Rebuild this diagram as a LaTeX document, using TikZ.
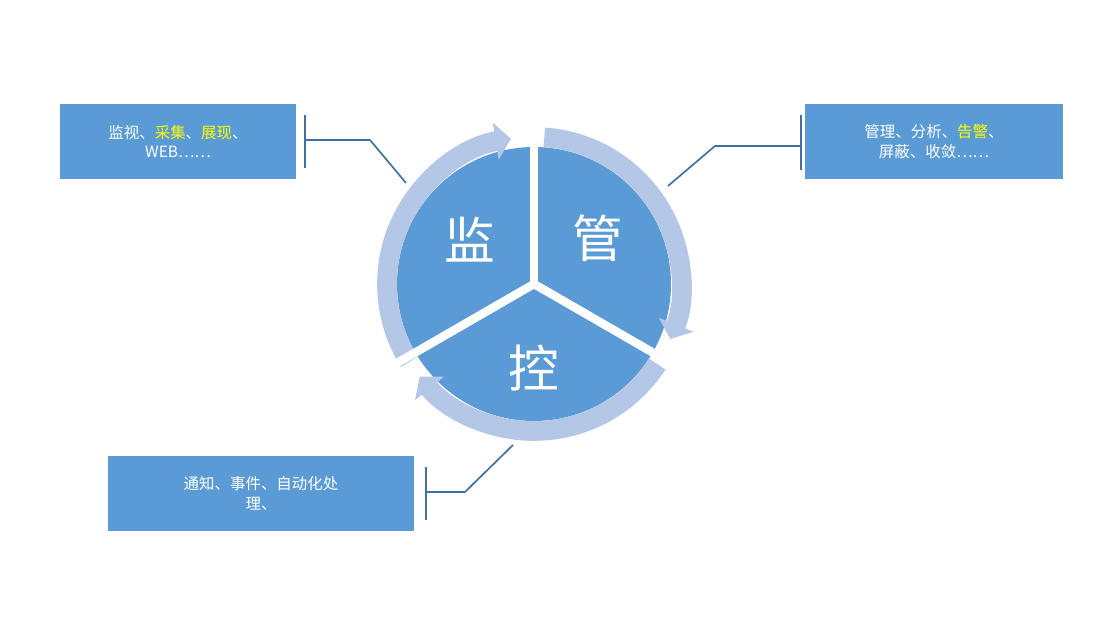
\documentclass[tikz,border=0pt]{standalone}
\usepackage{fontspec}
\setmainfont{Noto Sans CJK SC}
\usetikzlibrary{positioning, arrows.meta, calc}
\definecolor{pieblue}{RGB}{91,155,213}
\definecolor{ringblue}{RGB}{180,199,231}
\definecolor{leadblue}{RGB}{65,113,156}
\definecolor{hiyellow}{RGB}{255,255,0}

\begin{document}
\begin{tikzpicture}[x=0.025cm, y=0.025cm,
    notebox/.style={fill=pieblue, text=white, align=center, font=\fontsize{11}{14}\selectfont, inner sep=0pt},
    bigchar/.style={text=white, font=\fontsize{36}{36}\selectfont},
    ringarrow/.style={ringblue, line width=14, -{Triangle[width=26pt, length=11pt]}},
    lead/.style={leadblue, line width=1.2pt}
]
\useasboundingbox (0,0) rectangle (1094,636);

% Pie and ring
\coordinate (c) at (534,352);
\fill[pieblue] (c) circle (137);
\draw[ringarrow] ($(c)+(212:147)$) arc (212:99:147);
\draw[ringarrow] ($(c)+(86:147)$) arc (86:-22:147);
\draw[ringarrow] ($(c)+(-33:147)$) arc (-33:-141:147);

% Gaps between sectors
\foreach \a in {90,-30,210}
  \draw[white, line width=6] (c) -- ++(\a:162);

\node[bigchar] (jian) at (470,396) {监};
\node[bigchar] (guan) at (598,398) {管};
\node[bigchar] (kong) at (534,268) {控};

% Note boxes
\node[notebox, minimum width=168, minimum height=53] (collect) at (178,494.5)
  {监视、{\color{hiyellow}采集}、{\color{hiyellow}展现}、\\WEB……};
\node[notebox, minimum width=184, minimum height=53] (manage) at (934,494.5)
  {管理、分析、{\color{hiyellow}告警}、\\屏蔽、收敛……};
\node[notebox, minimum width=218, minimum height=53] (control) at (261,142.5)
  {通知、事件、自动化处\\理、};

% Leaders
\coordinate (l1) at (305,496);
\coordinate (l1e) at (406,453);
\draw[lead] (305,521) -- (305,468);
\draw[lead] (l1) -- (370,496) -- (l1e);

\coordinate (l2) at (801,490);
\coordinate (l2e) at (668,450);
\draw[lead] (801,521) -- (801,466);
\draw[lead] (l2) -- (715,490) -- (l2e);

\coordinate (l3) at (426,144);
\coordinate (l3e) at (513,191);
\draw[lead] (426,169) -- (426,116);
\draw[lead] (l3) -- (465,144) -- (l3e);
\end{tikzpicture}
\end{document}
